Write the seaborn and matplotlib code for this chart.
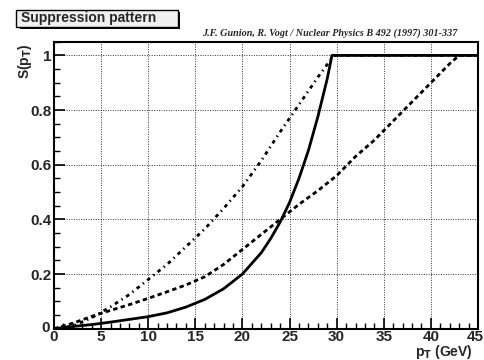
import numpy as np
import pandas as pd
import matplotlib
matplotlib.use("Agg")
import matplotlib.pyplot as plt
import matplotlib.transforms as mtransforms
import seaborn as sns
from matplotlib.ticker import MultipleLocator, FuncFormatter
from matplotlib.patches import Rectangle

# ---- data ----
x_solid = [0, 2, 4, 6, 8, 10, 12, 14, 16, 18, 20, 22, 23, 24, 25, 26, 27, 28, 29, 29.5, 45]
y_solid = [0.0, 0.008, 0.015, 0.024, 0.034, 0.044, 0.058, 0.079, 0.107, 0.146, 0.2,
           0.278, 0.33, 0.39, 0.462, 0.55, 0.652, 0.775, 0.915, 1.0, 1.0]

x_dashdot = [0, 2, 4, 6, 8, 10, 12, 14, 16, 18, 20, 22, 24, 26, 28, 29.7, 45]
y_dashdot = [0.0, 0.01, 0.04, 0.08, 0.125, 0.18, 0.235, 0.3, 0.365, 0.44, 0.52,
             0.615, 0.72, 0.82, 0.92, 1.0, 1.0]

x_dashed = [0, 2, 4, 6, 8, 10, 12, 14, 16, 18, 20, 22, 24, 26, 28, 30, 32, 34, 36,
            38, 40, 42, 43, 45]
y_dashed = [0.0, 0.02, 0.045, 0.067, 0.088, 0.111, 0.135, 0.16, 0.19, 0.235, 0.29,
            0.345, 0.4, 0.455, 0.505, 0.56, 0.63, 0.69, 0.76, 0.83, 0.9, 0.97, 1.0, 1.0]

title_text = "Suppression pattern"
citation = "J.F. Gunion, R. Vogt / Nuclear Physics B 492 (1997) 301-337"

sns.set_style("white")
plt.rcParams['font.family'] = ['Liberation Sans', 'DejaVu Sans']

fig = plt.figure(figsize=(4.85, 3.6), dpi=100)
ax = fig.add_axes([0.1113, 0.087, 0.9856 - 0.1113, 0.884 - 0.087])

df_s = pd.DataFrame({"x": x_solid, "y": y_solid})
df_dd = pd.DataFrame({"x": x_dashdot, "y": y_dashdot})
df_d = pd.DataFrame({"x": x_dashed, "y": y_dashed})

sns.lineplot(data=df_s, x="x", y="y", ax=ax, color="black", lw=2.0, sort=False)
sns.lineplot(data=df_dd, x="x", y="y", ax=ax, color="black", lw=2.0, sort=False)
sns.lineplot(data=df_d, x="x", y="y", ax=ax, color="black", lw=2.0, sort=False)
lines = ax.get_lines()
lines[1].set_linestyle((0, (1.3, 1.5, 0.5, 1.5)))
lines[2].set_linestyle((0, (1.6, 1.2)))

ax.set_xlim(0, 45)
ax.set_ylim(0, 1.05)
ax.xaxis.set_major_locator(MultipleLocator(5))
ax.xaxis.set_minor_locator(MultipleLocator(1))
ax.yaxis.set_major_locator(MultipleLocator(0.2))
ax.yaxis.set_minor_locator(MultipleLocator(0.05))
ax.yaxis.set_major_formatter(FuncFormatter(lambda v, p: f"{v:g}"))
ax.tick_params(which="both", direction="in", top=False, right=False, bottom=True, left=True,
               color="black")
ax.tick_params(which="major", length=8, width=1.2, labelsize=11, pad=1.5)
ax.tick_params(which="minor", length=4, width=1.0)
ax.tick_params(axis="x", which="major", pad=1.0)
ax.grid(True, which="major", linestyle=(0, (1, 1.5)), color="black", lw=0.7, alpha=0.8)
for sp in ax.spines.values():
    sp.set_visible(True)
    sp.set_color("black")
    sp.set_linewidth(1.5)
ax.set_xlabel("")
ax.set_ylabel("")

fig.canvas.draw()
xlabs = ax.get_xticklabels()
for lab in xlabs + ax.get_yticklabels():
    lab.set_fontweight("bold")
# keep the last x label ("45") inside the figure, as in the reference
last = [l for l in xlabs if l.get_text() == "45"]
for l in last:
    l.set_transform(l.get_transform() + mtransforms.ScaledTranslation(-3 / 100, 0, fig.dpi_scale_trans))
ylabs = ax.get_yticklabels()
for l in ylabs:
    if l.get_text() == "0":
        l.set_transform(l.get_transform() + mtransforms.ScaledTranslation(-2 / 100, 2 / 100, fig.dpi_scale_trans))

fig.text(0.052, 0.88, r"S(p$_\mathbf{T}$)", rotation=90, ha="center", va="top",
         fontsize=10, fontweight="bold")
fig.text(0.975, 0.022, r"p$_\mathbf{T}$ (GeV)", ha="right", va="center",
         fontsize=10, fontweight="bold")

# title box with shadow
fig.patches.append(Rectangle((20 / 485, 1 - 28.7 / 360), 160 / 485, 17 / 360,
                             transform=fig.transFigure, fc="black", ec="none", zorder=1))
fig.patches.append(Rectangle((15.7 / 485, 1 - 26.7 / 360), 162 / 485, 16.7 / 360,
                             transform=fig.transFigure, fc="#f0f0f0", ec="black", lw=1.0, zorder=2))
fig.text(21 / 485, 1 - 18.3 / 360, title_text, ha="left", va="center", fontsize=10,
         fontweight="bold", zorder=3)
fig.text(457 / 485, 1 - 33.5 / 360, citation, ha="right", va="center", fontsize=7.3,
         family=["Liberation Serif"], fontweight="bold", style="italic")

fig.savefig("out.png", dpi=100)
